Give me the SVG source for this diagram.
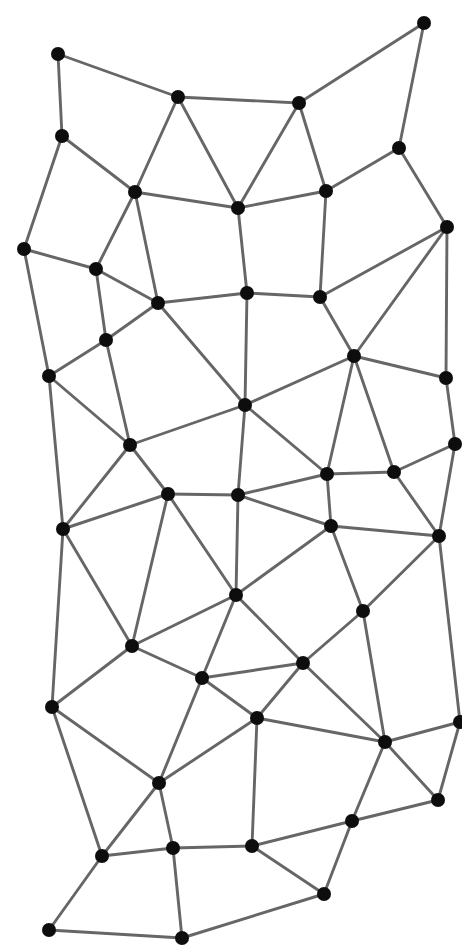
<svg xmlns="http://www.w3.org/2000/svg" width="462" height="949" viewBox="0 0 462 949">
<style>
.e{stroke:#666666;stroke-width:2.9;stroke-linecap:round}
.n{fill:#0a0a0a}
</style>
<defs><filter id="bl" x="-5%" y="-5%" width="110%" height="110%"><feGaussianBlur stdDeviation="0.6"/></filter></defs>
<rect width="462" height="949" fill="#fff"/>
<g id="connectors" filter="url(#bl)">
<line class="e" x1="58" y1="54" x2="178" y2="97"/>
<line class="e" x1="58" y1="54" x2="62" y2="136"/>
<line class="e" x1="178" y1="97" x2="299" y2="103"/>
<line class="e" x1="299" y1="103" x2="424" y2="23"/>
<line class="e" x1="424" y1="23" x2="399" y2="148"/>
<line class="e" x1="178" y1="97" x2="135" y2="192"/>
<line class="e" x1="178" y1="97" x2="238" y2="208"/>
<line class="e" x1="299" y1="103" x2="238" y2="208"/>
<line class="e" x1="299" y1="103" x2="326" y2="191"/>
<line class="e" x1="238" y1="208" x2="326" y2="191"/>
<line class="e" x1="399" y1="148" x2="326" y2="191"/>
<line class="e" x1="399" y1="148" x2="447" y2="227"/>
<line class="e" x1="62" y1="136" x2="135" y2="192"/>
<line class="e" x1="62" y1="136" x2="24" y2="249"/>
<line class="e" x1="135" y1="192" x2="238" y2="208"/>
<line class="e" x1="135" y1="192" x2="96" y2="269"/>
<line class="e" x1="135" y1="192" x2="158" y2="303"/>
<line class="e" x1="238" y1="208" x2="247" y2="293"/>
<line class="e" x1="326" y1="191" x2="320" y2="297"/>
<line class="e" x1="447" y1="227" x2="320" y2="297"/>
<line class="e" x1="447" y1="227" x2="354" y2="356"/>
<line class="e" x1="447" y1="227" x2="446" y2="378"/>
<line class="e" x1="24" y1="249" x2="96" y2="269"/>
<line class="e" x1="24" y1="249" x2="49" y2="376"/>
<line class="e" x1="96" y1="269" x2="158" y2="303"/>
<line class="e" x1="96" y1="269" x2="106" y2="340"/>
<line class="e" x1="158" y1="303" x2="247" y2="293"/>
<line class="e" x1="158" y1="303" x2="245" y2="405"/>
<line class="e" x1="158" y1="303" x2="106" y2="340"/>
<line class="e" x1="247" y1="293" x2="320" y2="297"/>
<line class="e" x1="247" y1="293" x2="245" y2="405"/>
<line class="e" x1="320" y1="297" x2="354" y2="356"/>
<line class="e" x1="106" y1="340" x2="49" y2="376"/>
<line class="e" x1="106" y1="340" x2="130" y2="445"/>
<line class="e" x1="49" y1="376" x2="130" y2="445"/>
<line class="e" x1="49" y1="376" x2="63" y2="529"/>
<line class="e" x1="130" y1="445" x2="245" y2="405"/>
<line class="e" x1="130" y1="445" x2="63" y2="529"/>
<line class="e" x1="130" y1="445" x2="168" y2="494"/>
<line class="e" x1="354" y1="356" x2="245" y2="405"/>
<line class="e" x1="354" y1="356" x2="446" y2="378"/>
<line class="e" x1="354" y1="356" x2="327" y2="474"/>
<line class="e" x1="354" y1="356" x2="394" y2="472"/>
<line class="e" x1="245" y1="405" x2="327" y2="474"/>
<line class="e" x1="245" y1="405" x2="238" y2="495"/>
<line class="e" x1="394" y1="472" x2="455" y2="444"/>
<line class="e" x1="446" y1="378" x2="455" y2="444"/>
<line class="e" x1="455" y1="444" x2="439" y2="536"/>
<line class="e" x1="327" y1="474" x2="394" y2="472"/>
<line class="e" x1="238" y1="495" x2="327" y2="474"/>
<line class="e" x1="168" y1="494" x2="238" y2="495"/>
<line class="e" x1="168" y1="494" x2="63" y2="529"/>
<line class="e" x1="168" y1="494" x2="132" y2="646"/>
<line class="e" x1="168" y1="494" x2="236" y2="595"/>
<line class="e" x1="238" y1="495" x2="236" y2="595"/>
<line class="e" x1="236" y1="595" x2="132" y2="646"/>
<line class="e" x1="63" y1="529" x2="132" y2="646"/>
<line class="e" x1="63" y1="529" x2="52" y2="707"/>
<line class="e" x1="132" y1="646" x2="52" y2="707"/>
<line class="e" x1="132" y1="646" x2="202" y2="678"/>
<line class="e" x1="202" y1="678" x2="236" y2="595"/>
<line class="e" x1="202" y1="678" x2="303" y2="663"/>
<line class="e" x1="202" y1="678" x2="257" y2="718"/>
<line class="e" x1="202" y1="678" x2="159" y2="783"/>
<line class="e" x1="238" y1="495" x2="331" y2="526"/>
<line class="e" x1="327" y1="474" x2="331" y2="526"/>
<line class="e" x1="394" y1="472" x2="439" y2="536"/>
<line class="e" x1="331" y1="526" x2="439" y2="536"/>
<line class="e" x1="331" y1="526" x2="236" y2="595"/>
<line class="e" x1="331" y1="526" x2="363" y2="611"/>
<line class="e" x1="439" y1="536" x2="363" y2="611"/>
<line class="e" x1="439" y1="536" x2="460" y2="722"/>
<line class="e" x1="363" y1="611" x2="303" y2="663"/>
<line class="e" x1="363" y1="611" x2="385" y2="742"/>
<line class="e" x1="236" y1="595" x2="303" y2="663"/>
<line class="e" x1="303" y1="663" x2="257" y2="718"/>
<line class="e" x1="303" y1="663" x2="385" y2="742"/>
<line class="e" x1="52" y1="707" x2="159" y2="783"/>
<line class="e" x1="52" y1="707" x2="102" y2="856"/>
<line class="e" x1="159" y1="783" x2="102" y2="856"/>
<line class="e" x1="159" y1="783" x2="173" y2="848"/>
<line class="e" x1="159" y1="783" x2="257" y2="718"/>
<line class="e" x1="102" y1="856" x2="173" y2="848"/>
<line class="e" x1="102" y1="856" x2="49" y2="930"/>
<line class="e" x1="173" y1="848" x2="182" y2="938"/>
<line class="e" x1="173" y1="848" x2="252" y2="846"/>
<line class="e" x1="49" y1="930" x2="182" y2="938"/>
<line class="e" x1="182" y1="938" x2="324" y2="894"/>
<line class="e" x1="257" y1="718" x2="385" y2="742"/>
<line class="e" x1="257" y1="718" x2="252" y2="846"/>
<line class="e" x1="385" y1="742" x2="460" y2="722"/>
<line class="e" x1="385" y1="742" x2="438" y2="800"/>
<line class="e" x1="385" y1="742" x2="352" y2="821"/>
<line class="e" x1="460" y1="722" x2="438" y2="800"/>
<line class="e" x1="438" y1="800" x2="352" y2="821"/>
<line class="e" x1="352" y1="821" x2="252" y2="846"/>
<line class="e" x1="352" y1="821" x2="324" y2="894"/>
<line class="e" x1="252" y1="846" x2="324" y2="894"/>
</g>
<g filter="url(#bl)">
<g id="nA"><circle class="n" cx="58" cy="54" r="7"/></g>
<g id="nB"><circle class="n" cx="178" cy="97" r="7"/></g>
<g id="nC"><circle class="n" cx="299" cy="103" r="7"/></g>
<g id="nD"><circle class="n" cx="424" cy="23" r="7"/></g>
<g id="nE"><circle class="n" cx="62" cy="136" r="7"/></g>
<g id="nF"><circle class="n" cx="399" cy="148" r="7"/></g>
<g id="nG"><circle class="n" cx="135" cy="192" r="7"/></g>
<g id="nH"><circle class="n" cx="238" cy="208" r="7"/></g>
<g id="nI"><circle class="n" cx="326" cy="191" r="7"/></g>
<g id="nJ"><circle class="n" cx="447" cy="227" r="7"/></g>
<g id="nK"><circle class="n" cx="24" cy="249" r="7"/></g>
<g id="nL"><circle class="n" cx="96" cy="269" r="7"/></g>
<g id="nM"><circle class="n" cx="158" cy="303" r="7"/></g>
<g id="nN"><circle class="n" cx="247" cy="293" r="7"/></g>
<g id="nO"><circle class="n" cx="320" cy="297" r="7"/></g>
<g id="nP"><circle class="n" cx="106" cy="340" r="7"/></g>
<g id="nQ"><circle class="n" cx="354" cy="356" r="7"/></g>
<g id="nR"><circle class="n" cx="49" cy="376" r="7"/></g>
<g id="nS"><circle class="n" cx="446" cy="378" r="7"/></g>
<g id="nT"><circle class="n" cx="245" cy="405" r="7"/></g>
<g id="nU"><circle class="n" cx="130" cy="445" r="7"/></g>
<g id="nV"><circle class="n" cx="455" cy="444" r="7"/></g>
<g id="nW"><circle class="n" cx="168" cy="494" r="7"/></g>
<g id="nX"><circle class="n" cx="238" cy="495" r="7"/></g>
<g id="nY"><circle class="n" cx="327" cy="474" r="7"/></g>
<g id="nZ"><circle class="n" cx="394" cy="472" r="7"/></g>
<g id="na"><circle class="n" cx="63" cy="529" r="7"/></g>
<g id="nb"><circle class="n" cx="331" cy="526" r="7"/></g>
<g id="nc"><circle class="n" cx="439" cy="536" r="7"/></g>
<g id="nd"><circle class="n" cx="236" cy="595" r="7"/></g>
<g id="ne"><circle class="n" cx="363" cy="611" r="7"/></g>
<g id="nf"><circle class="n" cx="132" cy="646" r="7"/></g>
<g id="ng"><circle class="n" cx="303" cy="663" r="7"/></g>
<g id="nh"><circle class="n" cx="202" cy="678" r="7"/></g>
<g id="ni"><circle class="n" cx="52" cy="707" r="7"/></g>
<g id="nj"><circle class="n" cx="257" cy="718" r="7"/></g>
<g id="nk"><circle class="n" cx="385" cy="742" r="7"/></g>
<g id="nl"><circle class="n" cx="460" cy="722" r="7"/></g>
<g id="nm"><circle class="n" cx="159" cy="783" r="7"/></g>
<g id="nn"><circle class="n" cx="438" cy="800" r="7"/></g>
<g id="no"><circle class="n" cx="352" cy="821" r="7"/></g>
<g id="np"><circle class="n" cx="102" cy="856" r="7"/></g>
<g id="nq"><circle class="n" cx="173" cy="848" r="7"/></g>
<g id="nr"><circle class="n" cx="252" cy="846" r="7"/></g>
<g id="ns"><circle class="n" cx="324" cy="894" r="7"/></g>
<g id="nt"><circle class="n" cx="49" cy="930" r="7"/></g>
<g id="nu"><circle class="n" cx="182" cy="938" r="7"/></g>
</g>
</svg>
